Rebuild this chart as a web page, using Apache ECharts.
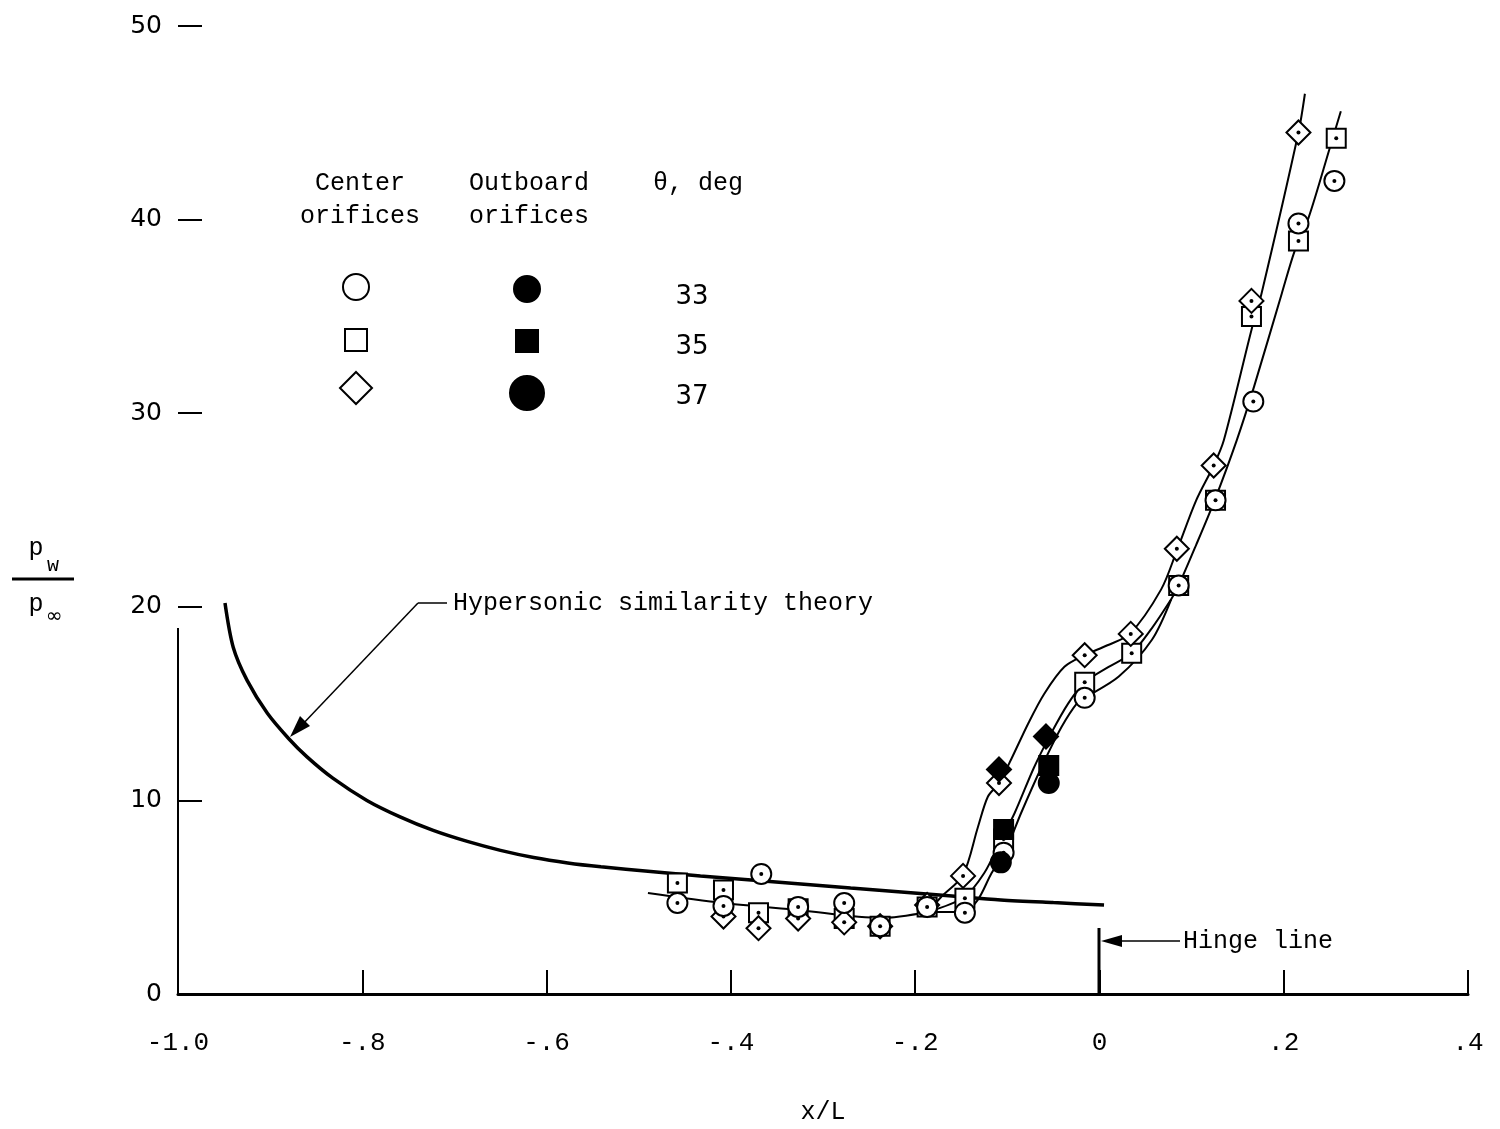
<!DOCTYPE html>
<html>
<head>
<meta charset="utf-8">
<script src="https://cdn.jsdelivr.net/npm/echarts@6/dist/echarts.min.js"></script>
<style>
  html, body { margin: 0; padding: 0; background: #fff; }
  #chart { width: 1500px; height: 1129px; }
</style>
</head>
<body>
<div id="chart"></div>
<script>
// tick labels
const xTickLabels = ['-1.0', '-.8', '-.6', '-.4', '-.2', '0', '.2', '.4'];
const yTickLabels = ['0', '10', '20', '30', '40', '50'];

// center orifices (open symbols), [x/L, pw/pinf]
const center33 = [
  [-0.458, 4.7], [-0.408, 4.55], [-0.367, 6.2], [-0.327, 4.5], [-0.277, 4.7],
  [-0.238, 3.5], [-0.187, 4.5], [-0.146, 4.2], [-0.104, 7.3], [-0.016, 15.3],
  [0.086, 21.1], [0.126, 25.5], [0.167, 30.6], [0.216, 39.8], [0.255, 42.0]
];
const center35 = [
  [-0.458, 5.73], [-0.408, 5.37], [-0.37, 4.2], [-0.327, 4.4], [-0.277, 3.9],
  [-0.238, 3.5], [-0.187, 4.5], [-0.146, 4.95], [-0.104, 8.0], [-0.016, 16.1],
  [0.035, 17.6], [0.086, 21.1], [0.126, 25.5], [0.165, 35.0], [0.216, 38.9], [0.257, 44.2]
];
const center37 = [
  [-0.408, 4.0], [-0.37, 3.4], [-0.327, 3.9], [-0.277, 3.7], [-0.238, 3.5],
  [-0.187, 4.6], [-0.148, 6.1], [-0.109, 10.9], [-0.016, 17.5], [0.034, 18.6],
  [0.084, 23.0], [0.124, 27.3], [0.165, 35.8], [0.216, 44.5]
];

// outboard orifices (solid symbols)
const outboard33 = [[-0.107, 6.8], [-0.055, 10.9]];
const outboard35 = [[-0.104, 8.5], [-0.055, 11.8]];
const outboard37 = [[-0.109, 11.6], [-0.058, 13.3]];

// faired curves
const curveLow = [
  [-0.49, 5.22], [-0.408, 4.7], [-0.327, 4.34], [-0.237, 3.93], [-0.186, 4.24]
];
const curve37 = [
  [-0.186, 4.24], [-0.172, 5.0], [-0.148, 6.15], [-0.132, 8.6], [-0.121, 10.2],
  [-0.109, 10.9], [-0.096, 12.1], [-0.077, 14.0], [-0.06, 15.5], [-0.038, 16.9],
  [-0.016, 17.5], [0.008, 18.0], [0.033, 18.6], [0.067, 20.9], [0.084, 22.9],
  [0.105, 25.5], [0.124, 27.3], [0.135, 28.6], [0.165, 34.3], [0.176, 36.2],
  [0.216, 44.5], [0.223, 46.5]
];
const curve35 = [
  [-0.186, 4.24], [-0.147, 5.0], [-0.125, 6.25], [-0.107, 7.95], [-0.092, 9.35],
  [-0.071, 11.7], [-0.052, 13.5], [-0.034, 15.0], [-0.016, 16.1], [0.01, 16.9],
  [0.035, 17.6], [0.057, 18.9], [0.078, 20.4]
];
const curve33 = [
  [-0.186, 4.24], [-0.147, 4.24], [-0.132, 4.86], [-0.117, 6.25], [-0.103, 7.28],
  [-0.085, 9.35], [-0.063, 11.7], [-0.041, 13.8], [-0.023, 15.1], [-0.016, 15.3],
  [0.021, 16.4], [0.057, 18.3], [0.078, 20.4]
];
const curveTop = [
  [0.078, 20.4], [0.085, 21.0], [0.105, 23.2], [0.125, 25.5], [0.149, 28.6],
  [0.168, 31.4], [0.198, 36.2], [0.212, 38.4], [0.227, 40.1], [0.25, 43.7], [0.262, 45.6]
];

// hypersonic similarity theory
const theory = [
  [-0.949, 20.2], [-0.94, 17.9], [-0.925, 16.2], [-0.903, 14.5], [-0.88, 13.2],
  [-0.86, 12.25], [-0.832, 11.15], [-0.795, 10.0], [-0.759, 9.15], [-0.723, 8.45],
  [-0.686, 7.88], [-0.65, 7.42], [-0.614, 7.05], [-0.577, 6.77], [-0.541, 6.57],
  [-0.487, 6.33], [-0.433, 6.1], [-0.378, 5.89], [-0.324, 5.68], [-0.27, 5.47],
  [-0.215, 5.27], [-0.16, 5.06], [-0.107, 4.86], [-0.05, 4.72], [0.005, 4.6]
];

const MONO = '"Liberation Mono", "DejaVu Sans Mono", monospace';
const SANS = '"DejaVu Sans", sans-serif';

function shapeEls(kind, cx, cy, size, filled) {
  const style = { fill: filled ? '#000' : '#fff', stroke: '#000', lineWidth: 2 };
  const els = [];
  if (kind === 'circle') {
    els.push({ type: 'circle', shape: { cx: cx, cy: cy, r: size }, style: style });
  } else if (kind === 'square') {
    els.push({ type: 'rect', shape: { x: cx - size, y: cy - size, width: size * 2, height: size * 2 }, style: style });
  } else {
    els.push({ type: 'polygon', shape: { points: [[cx, cy - size], [cx + size, cy], [cx, cy + size], [cx - size, cy]] }, style: style });
  }
  return els;
}

function markerSeries(data, kind, size, filled, withDot) {
  return {
    type: 'custom',
    data: data,
    z: 5,
    renderItem: function (params, api) {
      const p = api.coord([api.value(0), api.value(1)]);
      const children = shapeEls(kind, p[0], p[1], size, filled);
      if (withDot) {
        children.push({ type: 'circle', shape: { cx: p[0], cy: p[1], r: 2 }, style: { fill: '#000' } });
      }
      return { type: 'group', children: children };
    }
  };
}

function curveSeries(data, width) {
  return {
    type: 'line',
    data: data,
    smooth: 0.3,
    showSymbol: false,
    symbol: 'none',
    z: 2,
    lineStyle: { color: '#000', width: width }
  };
}

function txt(text, x, y, font, align) {
  return {
    type: 'text', x: x, y: y,
    style: { text: text, font: font, fill: '#000', textAlign: align || 'center', textVerticalAlign: 'middle' }
  };
}
function seg(x1, y1, x2, y2, w) {
  return { type: 'line', shape: { x1: x1, y1: y1, x2: x2, y2: y2 }, style: { stroke: '#000', lineWidth: w || 2 } };
}

const legendEls = [
  txt('Center', 360, 183, '25px ' + MONO),
  txt('orifices', 360, 216, '25px ' + MONO),
  txt('Outboard', 529, 183, '25px ' + MONO),
  txt('orifices', 529, 216, '25px ' + MONO),
  txt('\u03b8, deg', 698, 183, '25px ' + MONO),
  txt('33', 692, 297, '26px ' + SANS),
  txt('35', 692, 347, '26px ' + SANS),
  txt('37', 692, 397, '26px ' + SANS)
]
  .concat(shapeEls('circle', 356, 287, 13, false))
  .concat(shapeEls('circle', 527, 289, 13, true))
  .concat(shapeEls('square', 356, 340, 11, false))
  .concat(shapeEls('square', 527, 341, 11, true))
  .concat(shapeEls('diamond', 356, 388, 16, false))
  .concat(shapeEls('circle', 527, 393, 17, true));

const annotationEls = [
  // partial y axis line
  seg(178, 994, 178, 628, 2),
  // y axis name p_w / p_inf
  txt('p', 36, 548, '25px ' + MONO),
  txt('w', 53, 566, '20px ' + MONO),
  seg(12, 579, 74, 579, 3),
  txt('p', 36, 604, '25px ' + MONO),
  txt('\u221e', 54, 617, '20px ' + SANS),
  // theory label and arrow
  txt('Hypersonic similarity theory', 453, 603, '25px ' + MONO, 'left'),
  seg(447, 603, 418, 603, 1.5),
  seg(418, 603, 300, 727, 1.5),
  { type: 'polygon', shape: { points: [[290, 737], [310, 726], [300, 716]] }, style: { fill: '#000' } },
  // hinge line
  seg(1099, 994, 1099, 928, 3),
  seg(1180, 941, 1110, 941, 1.5),
  { type: 'polygon', shape: { points: [[1101, 941], [1122, 935], [1122, 947]] }, style: { fill: '#000' } },
  txt('Hinge line', 1183, 941, '25px ' + MONO, 'left')
];

const chart = echarts.init(document.getElementById('chart'));
chart.setOption({
  backgroundColor: '#fff',
  animation: false,
  grid: { left: 178, right: 32, top: 26, bottom: 135, outerBoundsMode: 'none', containLabel: false },
  xAxis: {
    type: 'value',
    min: -1, max: 0.4, interval: 0.2,
    name: 'x/L',
    nameLocation: 'middle',
    nameGap: 106,
    nameTextStyle: { fontFamily: MONO, fontSize: 25, color: '#000' },
    axisLine: { show: true, onZero: false, lineStyle: { color: '#000', width: 3 } },
    axisTick: { show: true, inside: true, length: 24, lineStyle: { color: '#000', width: 2 } },
    axisLabel: {
      margin: 36,
      fontFamily: MONO, fontSize: 26, color: '#000',
      formatter: function (v) { return xTickLabels[Math.round((v + 1) / 0.2)]; }
    },
    splitLine: { show: false }
  },
  yAxis: {
    type: 'value',
    min: 0, max: 50, interval: 10,
    position: 'left',
    axisLine: { show: false, onZero: false },
    axisTick: { show: true, inside: true, length: 24, lineStyle: { color: '#000', width: 2 } },
    axisLabel: {
      margin: 16,
      fontFamily: SANS, fontSize: 25, color: '#000',
      formatter: function (v) { return yTickLabels[Math.round(v / 10)]; }
    },
    splitLine: { show: false }
  },
  graphic: legendEls.concat(annotationEls),
  series: [
    curveSeries(theory, 3.5),
    curveSeries(curveLow, 2),
    curveSeries(curve37, 2),
    curveSeries(curve35, 2),
    curveSeries(curve33, 2),
    curveSeries(curveTop, 2),
    markerSeries(center35, 'square', 9.5, false, true),
    markerSeries(center37, 'diamond', 12, false, true),
    markerSeries(center33, 'circle', 10, false, true),
    markerSeries(outboard33, 'circle', 10, true, false),
    markerSeries(outboard35, 'square', 9.5, true, false),
    markerSeries(outboard37, 'diamond', 12, true, false)
  ]
});
</script>
</body>
</html>
